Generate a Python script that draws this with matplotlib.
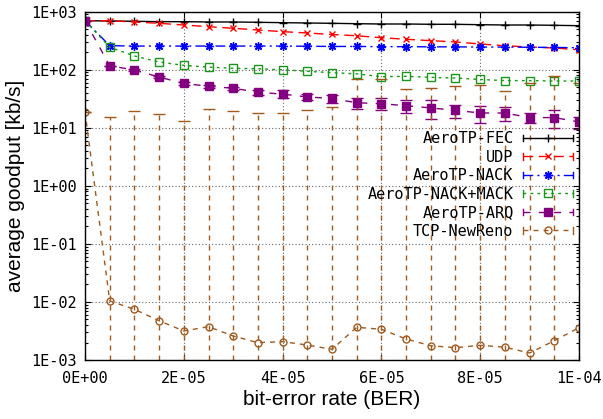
import numpy as np
import matplotlib
matplotlib.use("Agg")
import matplotlib.pyplot as plt
from matplotlib.lines import Line2D
from matplotlib.legend_handler import HandlerBase
from matplotlib.ticker import FixedLocator, FuncFormatter, LogLocator, NullFormatter

# ---------------- data ----------------
ber = [0.0, 5e-6, 1e-5, 1.5e-5, 2e-5, 2.5e-5, 3e-5, 3.5e-5, 4e-5, 4.5e-5, 5e-5,
       5.5e-5, 6e-5, 6.5e-5, 7e-5, 7.5e-5, 8e-5, 8.5e-5, 9e-5, 9.5e-5, 1e-4]

fec = [700, 692, 684, 673, 673, 665, 665, 657, 647, 639, 631,
       621, 614, 614, 607, 607, 597, 590, 590, 583, 574]
udp = [700, 700, 665, 631, 590, 552, 518, 484, 453, 430, 405,
       385, 356, 335, 317, 301, 278, 259, 247, 237, 221]
nack = [700, 260, 256, 256, 256, 256, 256, 256, 256, 254, 252,
        252, 250, 250, 248, 248, 246, 246, 244, 242, 240]
nack_mack = [700, 244, 173, 136, 119, 111, 106, 104, 100, 94, 89,
             85, 76, 77, 74, 72, 68, 65, 65, 64, 64]
arq = [700, 117, 99, 75, 58, 52, 48, 41, 38, 34, 32,
       27, 26, 24, 22, 20, 18, 18, 15, 15, 12.6]
arq_err = [0, 1, 2, 2, 3, 3, 3, 4, 6, 4, 5,
           6, 6, 6, 8, 5, 6, 5, 3, 5, 3]
tcp = [18.9, 0.0104, 0.00747, 0.00475, 0.00316, 0.00375, 0.00259, 0.00199, 0.00207, 0.00181, 0.00153,
       0.00366, 0.00338, 0.0023, 0.00176, 0.00163, 0.00179, 0.00166, 0.00132, 0.00215, 0.0036]
tcp_upper = [18.9, 15.6, 19.5, 17.5, 13.3, 21, 19.7, 18.2, 17.8, 20.5, 23,
             70, 68, 46, 48, 52, 55, 43, 60, 79, 60]
tcp_lower = [18.9, 0, 0, 0, 0, 0, 0, 0, 0, 0, 0,
             0, 0, 0, 0, 0, 0, 0, 0, 0, 0]

labels = ["AeroTP-FEC", "UDP", "AeroTP-NACK", "AeroTP-NACK+MACK", "AeroTP-ARQ", "TCP-NewReno"]
x_ticks = [0.0, 2e-5, 4e-5, 6e-5, 8e-5, 1e-4]
y_ticks = [1e-3, 1e-2, 1e-1, 1e0, 1e1, 1e2, 1e3]

# ---------------- styles ----------------
C_FEC, C_UDP, C_NACK, C_MACK, C_ARQ, C_TCP = "#000000", "#ff0000", "#0000ff", "#1a961a", "#82007f", "#a05a1e"
LS_FEC = "-"
LS_UDP = (0, (7, 4))
LS_NACK = (0, (7, 3, 1.5, 3))
LS_MACK = (0, (2, 3))
LS_ARQ = (0, (5, 6))
LS_TCP = (0, (3.6, 3.6))
mono = "DejaVu Sans Mono"
sans = "Liberation Sans"

fig = plt.figure(figsize=(6.03, 4.19), dpi=100)
ax = fig.add_axes([85 / 603, 1 - 360 / 419, 494 / 603, (360 - 11.7) / 419])
ax.set_yscale("log")

x = np.array(ber)
lw = 1.0

ax.plot(x, fec, color=C_FEC, ls=LS_FEC, lw=lw, marker="+", ms=6, mew=1)
ax.plot(x, udp, color=C_UDP, ls=LS_UDP, lw=lw, marker="x", ms=5, mew=1)
ax.plot(x, nack, color=C_NACK, ls=LS_NACK, lw=lw, marker=(8, 2, 0), ms=6, mew=1)
ax.plot(x, nack_mack, color=C_MACK, ls=LS_MACK, lw=lw, marker="s", ms=5.5, mew=1, mfc="none")

eb = ax.errorbar(x, arq, yerr=np.array(arq_err), color=C_ARQ, ls=LS_ARQ, lw=lw,
                 marker="s", ms=6, mew=1, capsize=4, elinewidth=lw)
eb[2][0].set_linestyle(LS_ARQ)

tcp_a = np.array(tcp)
lo = np.array(tcp_lower, dtype=float)
lo = np.where(lo > 0, lo, 1e-5)
up = np.array(tcp_upper, dtype=float)
eb2 = ax.errorbar(x, tcp_a, yerr=[tcp_a - lo, up - tcp_a], color=C_TCP, ls=LS_TCP, lw=lw,
                  marker="o", ms=5, mew=1, mfc="none", capsize=4, elinewidth=lw)
eb2[2][0].set_linestyle(LS_TCP)

ax.set_xlim(0, 1e-4)
ax.set_ylim(1e-3, 1e3)

ax.xaxis.set_major_locator(FixedLocator(x_ticks))
ax.xaxis.set_major_formatter(FuncFormatter(lambda v, p: "%.0E" % v))
ax.yaxis.set_major_locator(FixedLocator(y_ticks))
ax.yaxis.set_major_formatter(FuncFormatter(lambda v, p: "%.0E" % v))
ax.yaxis.set_minor_locator(LogLocator(base=10, subs=np.arange(2, 10), numticks=50))
ax.yaxis.set_minor_formatter(NullFormatter())

ax.tick_params(axis="both", which="both", direction="in", top=True, right=True, labelsize=11)
ax.tick_params(axis="both", which="major", length=4.5, width=0.8)
ax.tick_params(axis="both", which="minor", length=2.5, width=0.8)
ax.tick_params(axis="x", pad=8)
ax.tick_params(axis="y", pad=6)
for lab in ax.get_xticklabels() + ax.get_yticklabels():
    lab.set_fontfamily(mono)

ax.grid(True, which="major", color="0.4", ls=(0, (1, 2)), lw=0.8)
for s in ax.spines.values():
    s.set_linewidth(1.0)

ax.set_xlabel("bit-error rate (BER)", fontsize=15, family=sans, labelpad=3)
ax.set_ylabel("average goodput [kb/s]", fontsize=15, family=sans, labelpad=4)


class GPHandler(HandlerBase):
    def create_artists(self, legend, orig, xdescent, ydescent, width, height, fontsize, trans):
        y = height / 2 - ydescent
        x0, x1 = -xdescent, width - xdescent
        col = orig.get_color()
        line = Line2D([x0, x1], [y, y], color=col, lw=lw, linestyle=orig.gp_ls)
        h = 0.3 * height
        c1 = Line2D([x0, x0], [y - h, y + h], color=col, lw=lw)
        c2 = Line2D([x1, x1], [y - h, y + h], color=col, lw=lw)
        mk = Line2D([(x0 + x1) / 2], [y], marker=orig.get_marker(), ms=orig.get_markersize(),
                    mfc=orig.get_markerfacecolor(), mec=col, mew=1, linestyle="none")
        arts = [line, c1, c2, mk]
        for a in arts:
            a.set_transform(trans)
        return arts


specs = [(C_FEC, LS_FEC, "+", 6, C_FEC), (C_UDP, LS_UDP, "x", 5, C_UDP),
         (C_NACK, LS_NACK, (8, 2, 0), 6, C_NACK), (C_MACK, LS_MACK, "s", 5.5, "none"),
         (C_ARQ, LS_ARQ, "s", 6, C_ARQ), (C_TCP, LS_TCP, "o", 5, "none")]
handles = []
for c, ls, m, ms, fc in specs:
    h = Line2D([], [], color=c, marker=m, ms=ms, mfc=fc)
    h.gp_ls = ls
    handles.append(h)

leg = ax.legend(handles, labels, loc="upper right", bbox_to_anchor=(0.988, 0.657),
                bbox_transform=ax.transAxes, frameon=False, markerfirst=False,
                handlelength=3.3, handletextpad=0.6, labelspacing=0.23, borderpad=0,
                borderaxespad=0, prop={"family": mono, "size": 11},
                handler_map={Line2D: GPHandler()})

fig.savefig("out.png", dpi=100)
